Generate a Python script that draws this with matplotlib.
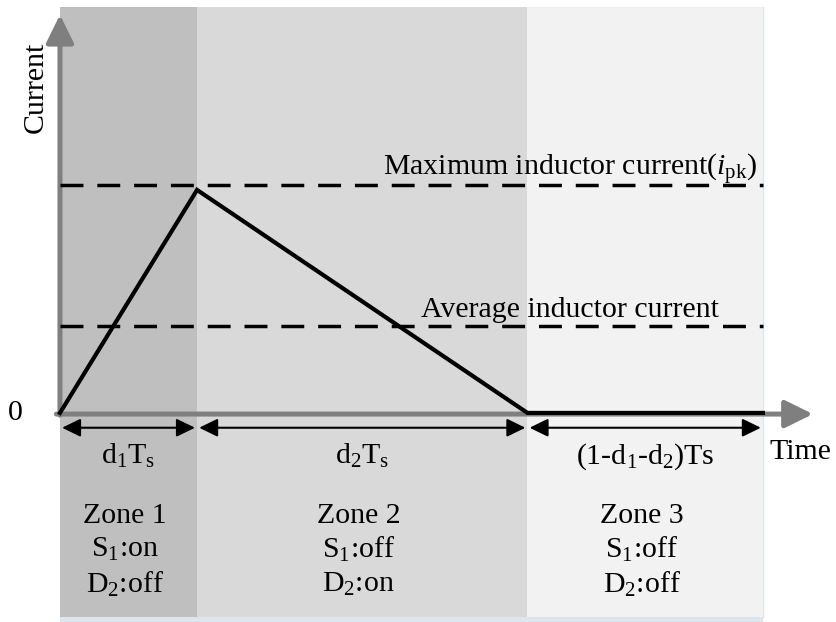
import matplotlib
matplotlib.use("Agg")
import matplotlib.pyplot as plt

plt.rcParams['font.family'] = ['Liberation Serif', 'DejaVu Serif']
plt.rcParams['mathtext.fontset'] = 'custom'
plt.rcParams['mathtext.rm'] = 'Liberation Serif'
plt.rcParams['mathtext.it'] = 'Liberation Serif:italic'

# duty ratios (fraction of Ts) and current levels (normalised to i_pk)
d1 = 0.195
d2 = 0.47
t_points = [0.0, d1, d1 + d2, 1.0]
i_points = [0.0, 0.978, 0.0, 0.0]
i_pk = 1.0
i_avg = 0.38

zone_edges = [0.0, d1, d1 + d2, 1.0]
zone_colors = ['#bfbfbf', '#d9d9d9', '#f2f2f2']
interval_labels = [r'd$_1$T$_\mathrm{s}$', r'd$_2$T$_\mathrm{s}$',
                   r'(1-d$_1$-d$_2$)Ts']
zone_labels = [['Zone 1', r'S$_1$:on', r'D$_2$:off'],
               ['Zone 2', r'S$_1$:off', r'D$_2$:on'],
               ['Zone 3', r'S$_1$:off', r'D$_2$:off']]


def main() -> None:
    fig = plt.figure(figsize=(8.37, 6.22), dpi=100)
    ax = fig.add_axes([0, 0, 1, 1])
    ax.set_xlim(-0.0853, 1.1053)
    ax.set_ylim(-0.917, 1.811)
    ax.axis('off')

    fs = 21.5

    # shaded zones
    for k in range(3):
        ax.axvspan(zone_edges[k], zone_edges[k + 1], ymin=0.008, ymax=0.989,
                   color=zone_colors[k], lw=0, zorder=0)
    ax.axvspan(zone_edges[0], zone_edges[-1], ymin=0.0, ymax=0.008,
               color='#dde6ef', lw=0, zorder=0)
    ax.plot([1.0, 1.0], [-0.895, 1.781], color='#dde6ef', lw=1, zorder=0)

    # axes arrows
    ax.annotate('', xy=(0, 1.746), xytext=(0, -0.01),
                arrowprops=dict(arrowstyle='-|>,head_length=0.85,head_width=0.42',
                                color='#7f7f7f', lw=3.6, mutation_scale=20,
                                shrinkA=0, shrinkB=0), zorder=2)
    ax.annotate('', xy=(1.071, -0.005), xytext=(-0.005, -0.005),
                arrowprops=dict(arrowstyle='-|>,head_length=0.85,head_width=0.42',
                                color='#7f7f7f', lw=3.6, mutation_scale=20,
                                shrinkA=0, shrinkB=0), zorder=2)

    # dashed reference levels
    ax.plot([0, 1.0], [i_pk, i_pk], color='black', lw=2.5,
            linestyle=(0, (6.6, 4.0)), zorder=3)
    ax.plot([0, 1.0], [i_avg, i_avg], color='black', lw=2.5,
            linestyle=(0, (6.6, 4.0)), zorder=3)

    # inductor current waveform
    ax.plot(t_points, i_points, color='black', lw=3, zorder=4,
            solid_joinstyle='miter')

    # interval dimension arrows and labels
    for k in range(3):
        a, b = zone_edges[k], zone_edges[k + 1]
        ax.annotate('', xy=(b - 0.003, -0.065), xytext=(a + 0.003, -0.065),
                    arrowprops=dict(arrowstyle='<|-|>,head_length=0.45,head_width=0.22',
                                    color='black', lw=1.5, mutation_scale=25,
                                    shrinkA=0, shrinkB=0), zorder=5)
        xm = (a + b) / 2
        ax.text(xm, -0.19, interval_labels[k], fontsize=fs, ha='center',
                va='center')
        for j, line in enumerate(zone_labels[k]):
            ax.text(xm - 0.005, -0.45 - j * 0.150, line, fontsize=fs,
                    ha='center', va='center')

    ax.text(-0.064, 0.0, '0', fontsize=fs, ha='center', va='center')
    ax.text(1.053, -0.171, 'Time', fontsize=fs, ha='center', va='center')
    ax.text(-0.034, 1.43, 'Current', fontsize=fs, ha='center', va='center',
            rotation=90)
    ax.text(0.9915, 1.04, r'Maximum inductor current($\mathit{i}_\mathrm{pk}$)',
            fontsize=fs, ha='right', va='baseline')
    ax.text(0.725, 0.42, 'Average inductor current', fontsize=fs,
            ha='center', va='baseline')

    fig.savefig('out.png', dpi=100)


if __name__ == '__main__':
    main()
